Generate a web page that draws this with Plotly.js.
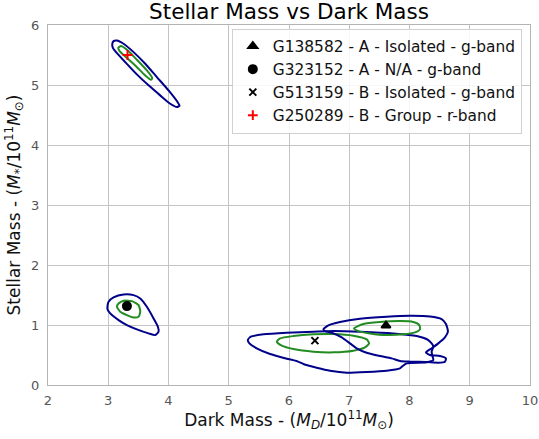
<!DOCTYPE html>
<html>
<head>
<meta charset="utf-8">
<script src="https://cdn.plot.ly/plotly-3.0.1.min.js"></script>
<style>html,body{margin:0;padding:0;background:#fff;}#chart{width:539px;height:439px;}</style>
</head>
<body>
<div id="chart"></div>
<script>
// Galaxy marker positions (Dark Mass, Stellar Mass) in units of 1e11 Msun
const galaxyNames = ["G138582 - A - Isolated - g-band", "G323152 - A - N/A - g-band", "G513159 - B - Isolated - g-band", "G250289 - B - Group - r-band"];
const galaxyX = [7.61, 3.31, 6.43, 3.32];
const galaxyY = [0.99, 1.315, 0.74, 5.50];

// Contour outlines (outer = blue, inner = green)
const upperOuterX = [3.066,3.088,3.144,3.254,3.420,3.614,3.807,4.001,4.150,4.183,4.139,4.028,3.862,3.669,3.475,3.282,3.144,3.077,3.066];
const upperOuterY = [5.676,5.731,5.742,5.687,5.548,5.354,5.132,4.910,4.716,4.655,4.633,4.688,4.827,4.994,5.177,5.382,5.532,5.620,5.676];
const upperInnerX = [3.166,3.210,3.310,3.475,3.641,3.730,3.708,3.614,3.448,3.282,3.188,3.166];
const upperInnerY = [5.620,5.648,5.587,5.421,5.243,5.116,5.088,5.160,5.326,5.476,5.565,5.620];

const leftOuterX = [2.989,3.006,3.088,3.254,3.420,3.531,3.641,3.752,3.824,3.835,3.779,3.669,3.475,3.310,3.171,3.033,2.989,2.989];
const leftOuterY = [1.332,1.387,1.459,1.509,1.498,1.443,1.304,1.110,0.971,0.888,0.832,0.860,0.927,0.999,1.082,1.193,1.259,1.332];
const leftInnerX = [3.144,3.171,3.254,3.392,3.503,3.531,3.503,3.420,3.310,3.199,3.144];
const leftInnerY = [1.304,1.359,1.404,1.398,1.332,1.221,1.137,1.126,1.165,1.221,1.304];

const triOuterX = [6.571,6.654,6.847,7.179,7.621,8.008,8.340,8.533,8.605,8.638,8.588,8.478,8.367,8.273,8.340,8.505,8.605,8.588,8.478,8.284,8.008,7.842,7.704,7.510,7.289,7.123,7.013,6.875,6.709,6.598,6.571];
const triOuterY = [0.927,0.993,1.049,1.104,1.138,1.154,1.143,1.099,1.016,0.888,0.794,0.694,0.611,0.544,0.500,0.483,0.444,0.389,0.372,0.383,0.389,0.400,0.444,0.483,0.538,0.611,0.694,0.794,0.871,0.899,0.927];
const triInnerX = [7.079,7.234,7.510,7.842,8.063,8.163,8.174,8.091,7.897,7.621,7.345,7.151,7.079];
const triInnerY = [0.943,1.016,1.049,1.065,1.049,0.999,0.927,0.877,0.844,0.832,0.860,0.899,0.943];

const crossOuterX = [5.316,5.366,5.576,5.963,6.405,6.737,7.179,7.732,8.119,8.312,8.395,8.367,8.384,8.395,8.284,7.953,7.886,7.842,7.621,7.289,6.958,6.681,6.460,6.239,6.140,5.963,5.686,5.465,5.343,5.316];
const crossOuterY = [0.749,0.805,0.844,0.871,0.888,0.899,0.888,0.860,0.816,0.749,0.649,0.555,0.472,0.416,0.378,0.361,0.316,0.278,0.239,0.217,0.206,0.239,0.289,0.350,0.394,0.439,0.516,0.611,0.694,0.749];
const crossInnerX = [5.797,5.852,6.073,6.405,6.737,7.068,7.289,7.328,7.262,7.068,6.737,6.405,6.073,5.880,5.797];
const crossInnerY = [0.721,0.777,0.816,0.844,0.849,0.821,0.760,0.694,0.627,0.572,0.544,0.555,0.599,0.655,0.721];

const xTicks = [2,3,4,5,6,7,8,9,10];
const yTicks = [0,1,2,3,4,5,6];

const outerColor = "#00008b";
const innerColor = "#228b22";
const FONT = "DejaVu Sans, sans-serif";

function contour(x, y, color) {
  return {x: x, y: y, type: "scatter", mode: "lines", showlegend: false, hoverinfo: "skip",
          line: {color: color, width: 2, shape: "spline", smoothing: 0.6}};
}

const traces = [
  contour(upperOuterX, upperOuterY, outerColor),
  contour(upperInnerX, upperInnerY, innerColor),
  contour(leftOuterX, leftOuterY, outerColor),
  contour(leftInnerX, leftInnerY, innerColor),
  contour(crossOuterX, crossOuterY, outerColor),
  contour(crossInnerX, crossInnerY, innerColor),
  contour(triOuterX, triOuterY, outerColor),
  contour(triInnerX, triInnerY, innerColor)
];

const symbols = ["triangle-up", "circle", "x-thin-open", "cross-thin-open"];
const colors = ["black", "black", "black", "red"];
const sizes = [8, 8, 7, 7];
for (let i = 0; i < galaxyNames.length; i++) {
  traces.push({
    x: [galaxyX[i]], y: [galaxyY[i]], type: "scatter", mode: "markers", name: galaxyNames[i],
    marker: {symbol: symbols[i], color: colors[i], size: sizes[i], line: {color: colors[i], width: 2}}
  });
}

const layout = {
  width: 539, height: 439,
  margin: {l: 48, r: 9, t: 25, b: 54},
  paper_bgcolor: "#fff", plot_bgcolor: "#fff",
  font: {family: FONT, color: "#222"},
  title: {text: "Stellar Mass vs Dark Mass", font: {size: 21.5, family: FONT, color: "#000"},
          x: 0.5, xref: "paper", y: 0.973, yref: "container", yanchor: "middle"},
  xaxis: {range: [2, 10], tickvals: xTicks, ticktext: xTicks.map(String),
          showgrid: true, gridcolor: "#c4c4c4", gridwidth: 1, zeroline: false,
          showline: true, linecolor: "#b4b4b4", linewidth: 1, mirror: true,
          ticks: "outside", ticklen: 3, tickcolor: "rgba(0,0,0,0)",
          tickfont: {size: 13, color: "#555", family: FONT},
          title: {text: "Dark Mass - (<i>M</i><sub><i>D</i></sub>/10<sup>11</sup><i>M</i><sub>⊙</sub>)",
                  font: {size: 17, color: "#111", family: FONT}, standoff: 6}},
  yaxis: {range: [0, 6], tickvals: yTicks, ticktext: yTicks.map(String),
          showgrid: true, gridcolor: "#c4c4c4", gridwidth: 1, zeroline: false,
          showline: true, linecolor: "#b4b4b4", linewidth: 1, mirror: true,
          ticks: "outside", ticklen: 5, tickcolor: "rgba(0,0,0,0)",
          tickfont: {size: 13, color: "#555", family: FONT},
          title: {text: "Stellar Mass - (<i>M</i><sub>*</sub>/10<sup>11</sup><i>M</i><sub>⊙</sub>)",
                  font: {size: 17, color: "#111", family: FONT}, standoff: 6}},
  legend: {x: 0.983, xanchor: "right", y: 0.99, yanchor: "top",
           bgcolor: "rgba(255,255,255,0.85)", bordercolor: "#d0d0d0", borderwidth: 1,
           font: {size: 15.4, family: FONT, color: "#111"}, tracegroupgap: 0, itemwidth: 30},
  showlegend: true
};

Plotly.newPlot("chart", traces, layout, {displayModeBar: false, staticPlot: true});
</script>
</body>
</html>
